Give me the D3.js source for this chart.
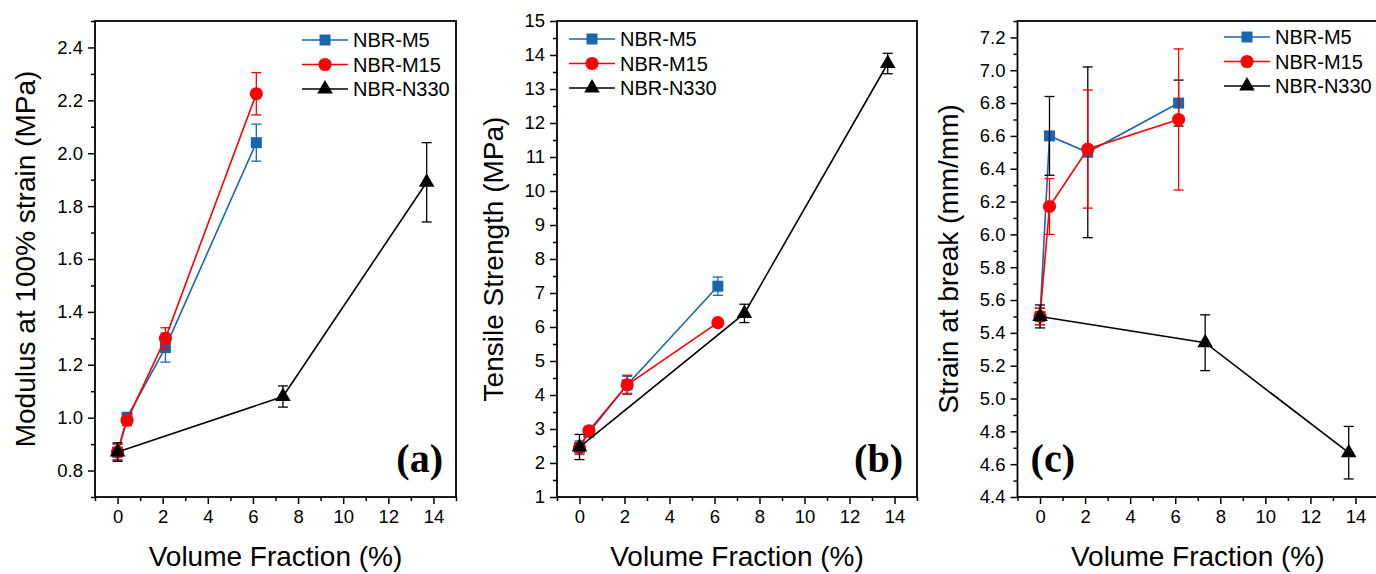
<!DOCTYPE html>
<html>
<head>
<meta charset="utf-8">
<script src="https://cdn.jsdelivr.net/npm/d3@7"></script>
<style>
  body { margin: 0; background: #fff; }
  text { font-family: Arial, "Liberation Sans", sans-serif; }
</style>
</head>
<body>
<div id="chart"></div>
<script>
// volume fraction (%) of each filler loading
var volM = [0, 0.42, 2.12, 6.15];
var volN = [0, 7.33, 13.7];

// (a) modulus at 100% strain (MPa)
var modM5 = [0.87, 1.0, 1.265, 2.04];
var modM5Err = [0.03, 0.02, 0.055, 0.07];
var modM15 = [0.87, 0.99, 1.30, 2.225];
var modM15Err = [0.03, 0.02, 0.04, 0.08];
var modN330 = [0.87, 1.08, 1.89];
var modN330Err = [0.035, 0.04, 0.15];

// (b) tensile strength (MPa)
var tsM5 = [2.45, 2.9, 4.3, 7.2];
var tsM5Err = [0.2, 0.1, 0.25, 0.27];
var tsM15 = [2.45, 2.95, 4.3, 6.13];
var tsM15Err = [0.15, 0.1, 0.28, 0.05];
var tsN330 = [2.47, 6.4, 13.75];
var tsN330Err = [0.37, 0.27, 0.3];

// (c) strain at break (mm/mm)
var sbM5 = [5.5, 6.6, 6.5, 6.8];
var sbM5Err = [0.05, 0.24, 0.52, 0.14];
var sbM15 = [5.5, 6.17, 6.52, 6.7];
var sbM15Err = [0.05, 0.17, 0.36, 0.43];
var sbN330 = [5.5, 5.34, 4.67];
var sbN330Err = [0.07, 0.17, 0.16];

var seriesNames = ["NBR-M5", "NBR-M15", "NBR-N330"];
var xTicks = [0, 2, 4, 6, 8, 10, 12, 14];
var xMinor = [-1, 1, 3, 5, 7, 9, 11, 13, 15];
var yTicksA = [0.8, 1.0, 1.2, 1.4, 1.6, 1.8, 2.0, 2.2, 2.4];
var yTicksB = [1, 2, 3, 4, 5, 6, 7, 8, 9, 10, 11, 12, 13, 14, 15];
var yTicksC = [4.4, 4.6, 4.8, 5.0, 5.2, 5.4, 5.6, 5.8, 6.0, 6.2, 6.4, 6.6, 6.8, 7.0, 7.2];

var colors = ["#1a66b0", "#ff0000", "#000000"];
var symbols = [d3.symbolSquare, d3.symbolCircle, d3.symbolTriangle];
var symSizes = [121, 135, 105];

var svg = d3.select("#chart").append("svg")
  .attr("width", 1376)
  .attr("height", 574);

var panels = [
  { left: 95, right: 456, yDom: [0.7, 2.5], yTicks: yTicksA, fmt: ".1f",
    title: "Modulus at 100% strain (MPa)", titleX: 35, label: "(a)", labelX: 443,
    legX: 302, legY: 40, errCol: colors,
    series: [[volM, modM5, modM5Err], [volM, modM15, modM15Err], [volN, modN330, modN330Err]] },
  { left: 557, right: 917, yDom: [1, 15], yTicks: yTicksB, fmt: "d",
    title: "Tensile Strength (MPa)", titleX: 503, label: "(b)", labelX: 903,
    legX: 569, legY: 39, errCol: colors,
    series: [[volM, tsM5, tsM5Err], [volM, tsM15, tsM15Err], [volN, tsN330, tsN330Err]] },
  { left: 1017.5, right: 1378, yDom: [4.4, 7.3], yTicks: yTicksC, fmt: ".1f",
    title: "Strain at break (mm/mm)", titleX: 958, label: "(c)", labelX: 1075,
    legX: 1224, legY: 37, errCol: ["#000000", "#ff0000", "#000000"],
    series: [[volM, sbM5, sbM5Err], [volM, sbM15, sbM15Err], [volN, sbN330, sbN330Err]] }
];

var plotTop = 21, plotBottom = 497;

panels.forEach(function (p) {
  var x = d3.scaleLinear().domain([-1, 15]).range([p.left, p.right]);
  var y = d3.scaleLinear().domain(p.yDom).range([plotBottom, plotTop]);
  var g = svg.append("g");

  // minor y ticks halfway between the labelled ones
  var step = p.yTicks[1] - p.yTicks[0];
  var yMinor = d3.range(p.yTicks[0] - step / 2, p.yDom[1] + 1e-6, step)
    .filter(function (v) { return v >= p.yDom[0] - 1e-6; });

  g.append("g")
    .attr("transform", "translate(" + p.left + ",0)")
    .call(d3.axisLeft(y).tickValues(p.yTicks).tickFormat(d3.format(p.fmt)).tickSize(7).tickSizeOuter(0).tickPadding(5));
  g.append("g")
    .attr("transform", "translate(" + p.left + ",0)")
    .call(d3.axisLeft(y).tickValues(yMinor).tickFormat("").tickSize(4).tickSizeOuter(0));

  g.append("g")
    .attr("transform", "translate(0," + plotBottom + ")")
    .call(d3.axisBottom(x).tickValues(xTicks).tickSize(7).tickSizeOuter(0).tickPadding(6));
  g.append("g")
    .attr("transform", "translate(0," + plotBottom + ")")
    .call(d3.axisBottom(x).tickValues(xMinor).tickFormat("").tickSize(4).tickSizeOuter(0));

  g.selectAll(".domain").remove();
  g.selectAll(".tick line").attr("stroke", "#000").attr("stroke-width", 1.5);
  g.selectAll(".tick text").attr("fill", "#000")
    .attr("font-size", 18.5)
    .attr("font-family", "Arial, 'Liberation Sans', sans-serif");

  // frame
  g.append("rect")
    .attr("x", p.left).attr("y", plotTop)
    .attr("width", p.right - p.left).attr("height", plotBottom - plotTop)
    .attr("fill", "none").attr("stroke", "#000").attr("stroke-width", 1.8);

  // axis titles
  g.append("text")
    .attr("x", (p.left + p.right) / 2).attr("y", 566)
    .attr("text-anchor", "middle")
    .style("font-size", "28px")
    .text("Volume Fraction (%)");
  g.append("text")
    .attr("transform", "translate(" + p.titleX + "," + ((plotTop + plotBottom) / 2) + ") rotate(-90)")
    .attr("text-anchor", "middle")
    .style("font-size", "28px")
    .text(p.title);

  // series: line, symbols, error bars
  p.series.forEach(function (s, si) {
    var pts = s[0].map(function (v, i) { return { x: v, y: s[1][i], e: s[2][i] }; });
    var line = d3.line().x(function (d) { return x(d.x); }).y(function (d) { return y(d.y); });
    g.append("path")
      .datum(pts)
      .attr("d", line)
      .attr("fill", "none")
      .attr("stroke", colors[si])
      .attr("stroke-width", 1.6);

    g.selectAll(".sym" + si)
      .data(pts)
      .enter().append("path")
      .attr("class", "sym" + si)
      .attr("transform", function (d) { return "translate(" + x(d.x) + "," + y(d.y) + ")"; })
      .attr("d", d3.symbol().type(symbols[si]).size(symSizes[si]))
      .attr("fill", colors[si]);

    var eb = g.selectAll(".err" + si)
      .data(pts)
      .enter().append("g")
      .attr("class", "err" + si)
      .attr("stroke", p.errCol[si])
      .attr("stroke-width", 1.3);
    eb.append("line")
      .attr("x1", function (d) { return x(d.x); }).attr("x2", function (d) { return x(d.x); })
      .attr("y1", function (d) { return y(d.y - d.e); }).attr("y2", function (d) { return y(d.y + d.e); });
    eb.append("line")
      .attr("x1", function (d) { return x(d.x) - 5; }).attr("x2", function (d) { return x(d.x) + 5; })
      .attr("y1", function (d) { return y(d.y + d.e); }).attr("y2", function (d) { return y(d.y + d.e); });
    eb.append("line")
      .attr("x1", function (d) { return x(d.x) - 5; }).attr("x2", function (d) { return x(d.x) + 5; })
      .attr("y1", function (d) { return y(d.y - d.e); }).attr("y2", function (d) { return y(d.y - d.e); });
  });

  // legend
  seriesNames.forEach(function (name, si) {
    var ly = p.legY + si * 24.5;
    g.append("line")
      .attr("x1", p.legX).attr("x2", p.legX + 46)
      .attr("y1", ly).attr("y2", ly)
      .attr("stroke", colors[si]).attr("stroke-width", 1.6);
    g.append("path")
      .attr("transform", "translate(" + (p.legX + 23) + "," + ly + ")")
      .attr("d", d3.symbol().type(symbols[si]).size(symSizes[si]))
      .attr("fill", colors[si]);
    g.append("text")
      .attr("x", p.legX + 51).attr("y", ly)
      .attr("dy", "0.36em")
      .style("font-size", "20px")
      .text(name);
  });

  // panel label
  g.append("text")
    .attr("x", p.labelX).attr("y", 472)
    .attr("text-anchor", "end")
    .style("font-family", "'Times New Roman', 'Liberation Serif', serif")
    .style("font-weight", "bold")
    .style("font-size", "40px")
    .text(p.label);
});
</script>
</body>
</html>
